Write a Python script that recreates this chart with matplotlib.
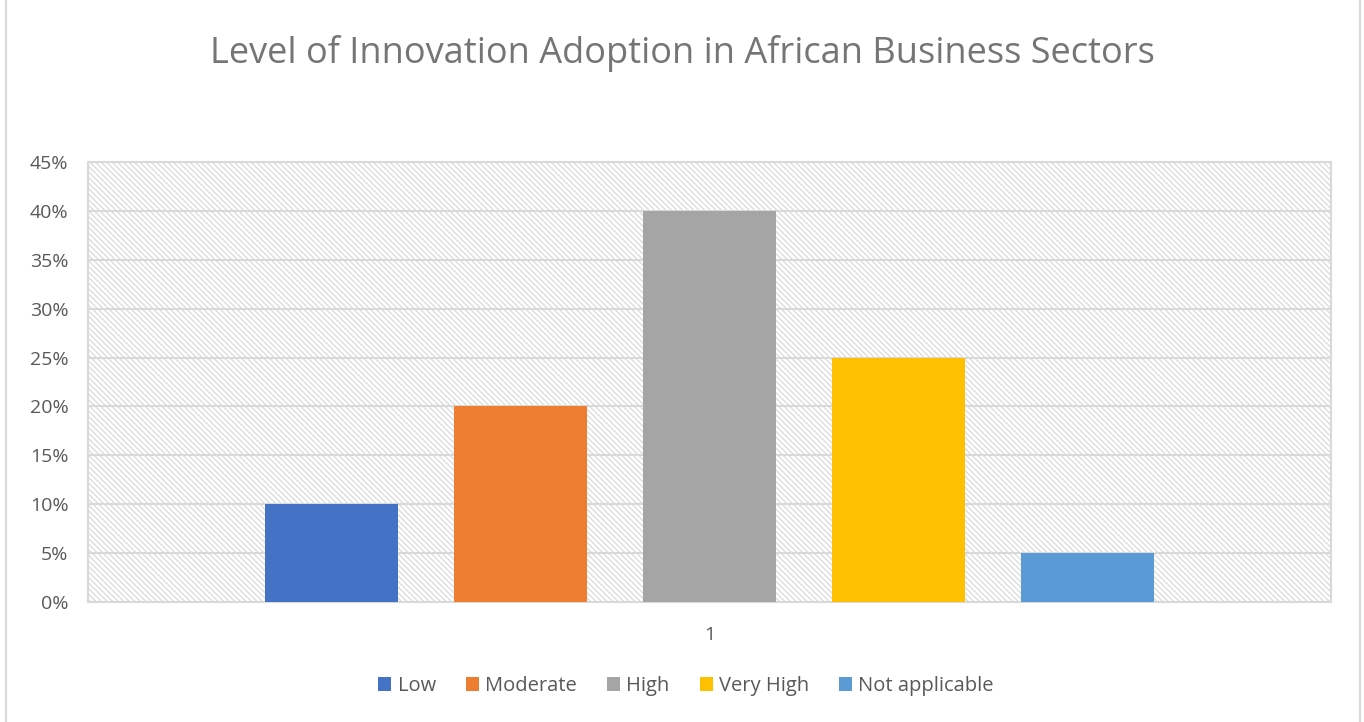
import matplotlib.pyplot as plt
from matplotlib.patches import Rectangle
from matplotlib.ticker import PercentFormatter, MultipleLocator
from matplotlib.lines import Line2D

# --- data ---
series = ['Low', 'Moderate', 'High', 'Very High', 'Not applicable']
values = [0.10, 0.20, 0.40, 0.25, 0.05]
colors = ['#4472C4', '#ED7D31', '#A5A5A5', '#FFC000', '#5B9BD5']
category = '1'

plt.rcParams['font.family'] = ['Open Sans', 'DejaVu Sans']
plt.rcParams['hatch.color'] = '#DADADA'
plt.rcParams['hatch.linewidth'] = 0.9
text_color = '#595959'
grid_color = '#D9D9D9'

fig = plt.figure(figsize=(13.64, 7.22), dpi=100)
ax = fig.add_axes([88 / 1364, 1 - 602 / 722, (1331 - 88) / 1364, (602 - 162) / 722])

# hatched plot area background
ax.add_patch(Rectangle((0, 0), 1, 1, transform=ax.transAxes, facecolor='white',
                       edgecolor='#DADADA', hatch='\\' * 6, linewidth=0, zorder=0))

for i, (name, v, c) in enumerate(zip(series, values, colors)):
    ax.bar(i, v, width=133 / 189, color=c, label=name, zorder=3)

ax.set_xlim(-1.286, 5.286)
ax.set_ylim(0, 0.45)
ax.yaxis.set_major_locator(MultipleLocator(0.05))
ax.yaxis.set_major_formatter(PercentFormatter(1.0, decimals=0))
ax.set_xticks([2])
ax.set_xticklabels([category])
ax.tick_params(axis='both', length=0, labelsize=14, colors=text_color)
ax.tick_params(axis='y', pad=14)
ax.tick_params(axis='x', pad=17)
ax.grid(axis='y', color=grid_color, linewidth=1.5, zorder=1)
ax.set_axisbelow(True)
for s in ax.spines.values():
    s.set_color(grid_color)
    s.set_linewidth(1.5)

fig.suptitle('Level of Innovation Adoption in African Business Sectors',
             y=1 - 54 / 722, va='center', fontsize=26, color='#757575',
             fontweight='normal')

leg = fig.legend(loc='center', bbox_to_anchor=(0.503, 1 - 686 / 722), ncol=5,
                 frameon=False, fontsize=14.5, handlelength=0.65, handleheight=0.65,
                 handletextpad=0.3, columnspacing=1.5)
for t in leg.get_texts():
    t.set_color(text_color)

# outer chart border (sides)
fig.add_artist(Line2D([6 / 1364, 6 / 1364], [0, 1], color='#D9D9D9', lw=1.5))
fig.add_artist(Line2D([1360 / 1364, 1360 / 1364], [0, 1], color='#D9D9D9', lw=1.5))

fig.savefig('out.png', dpi=100)
